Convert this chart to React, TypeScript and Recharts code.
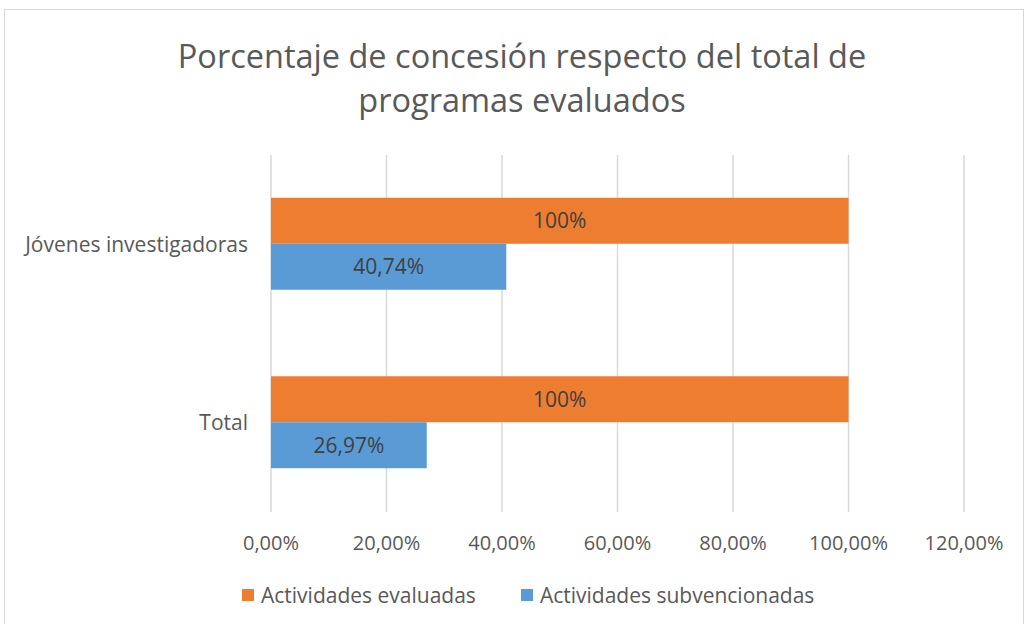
import React from 'react';
import { BarChart, Bar, XAxis, YAxis, CartesianGrid, LabelList } from 'recharts';

const categories = ['Jóvenes investigadoras', 'Total'];
const evaluadas = [100, 100];
const subvencionadas = [40.74, 26.97];
const xTicks = [0, 20, 40, 60, 80, 100, 120];
const seriesNames = ['Actividades evaluadas', 'Actividades subvencionadas'];
const titleLines = ['Porcentaje de concesión respecto del total de', 'programas evaluados'];

const data = categories.map((c, i) => ({ name: c, evaluadas: evaluadas[i], subvencionadas: subvencionadas[i] }));

const FONT = '"Open Sans", "Noto Sans", sans-serif';
const ORANGE = '#ED7D31';
const BLUE = '#5B9BD5';

const fmtTick = (v: number) => v.toFixed(2).replace('.', ',') + '%';
const fmtLabel = (v: any) => {
  const n = Number(v);
  return Number.isInteger(n) ? `${n}%` : n.toFixed(2).replace('.', ',') + '%';
};

export default function App() {
  return (
    <div style={{ position: 'absolute', left: 0, top: 0, width: 1026, height: 624, overflow: 'hidden', background: '#fff', fontFamily: FONT }}>
      <div style={{ position: 'absolute', left: 4, top: 9, width: 1020, height: 640, border: '1px solid #D9D9D9', boxSizing: 'border-box' }} />
      {titleLines.map((t, i) => (
        <div key={i} style={{ position: 'absolute', left: 0, width: 1044, top: 34 + i * 44, textAlign: 'center', fontSize: 32.5, lineHeight: '44px', color: '#595959', whiteSpace: 'nowrap' }}>{t}</div>
      ))}
      <div style={{ position: 'absolute', left: 0, top: 0 }}>
        <BarChart
          width={1026}
          height={624}
          data={data}
          layout="vertical"
          margin={{ top: 155, right: 62, bottom: 72, left: 0 }}
          barCategoryGap="24%"
          barGap={0}
        >
          <CartesianGrid horizontal={false} stroke="#D9D9D9" strokeWidth={1.5} />
          <XAxis
            type="number"
            domain={[0, 120]}
            ticks={xTicks}
            tickFormatter={fmtTick}
            axisLine={false}
            tickLine={false}
            tickSize={0}
            tickMargin={24}
            height={40}
            tick={{ fill: '#595959', fontSize: 20, fontFamily: FONT }}
            interval={0}
          />
          <YAxis
            type="category"
            dataKey="name"
            width={271}
            axisLine={false}
            tickLine={false}
            tickSize={0}
            tickMargin={23}
            tick={{ fill: '#595959', fontSize: 21, fontFamily: FONT }}
          />
          <Bar dataKey="evaluadas" name={seriesNames[0]} fill={ORANGE} isAnimationActive={false}>
            <LabelList dataKey="evaluadas" position="center" formatter={fmtLabel} fill="#404040" fontSize={21} fontFamily={FONT} />
          </Bar>
          <Bar dataKey="subvencionadas" name={seriesNames[1]} fill={BLUE} isAnimationActive={false}>
            <LabelList dataKey="subvencionadas" position="center" formatter={fmtLabel} fill="#404040" fontSize={21} fontFamily={FONT} />
          </Bar>
        </BarChart>
      </div>
      <div style={{ position: 'absolute', left: 242, top: 581, display: 'flex', alignItems: 'center', fontSize: 21, color: '#595959', lineHeight: '28px', whiteSpace: 'nowrap' }}>
        <span style={{ display: 'inline-block', width: 12, height: 12, background: ORANGE, marginRight: 7 }} />
        <span>{seriesNames[0]}</span>
        <span style={{ display: 'inline-block', width: 12, height: 12, background: BLUE, marginLeft: 45, marginRight: 7 }} />
        <span>{seriesNames[1]}</span>
      </div>
    </div>
  );
}
